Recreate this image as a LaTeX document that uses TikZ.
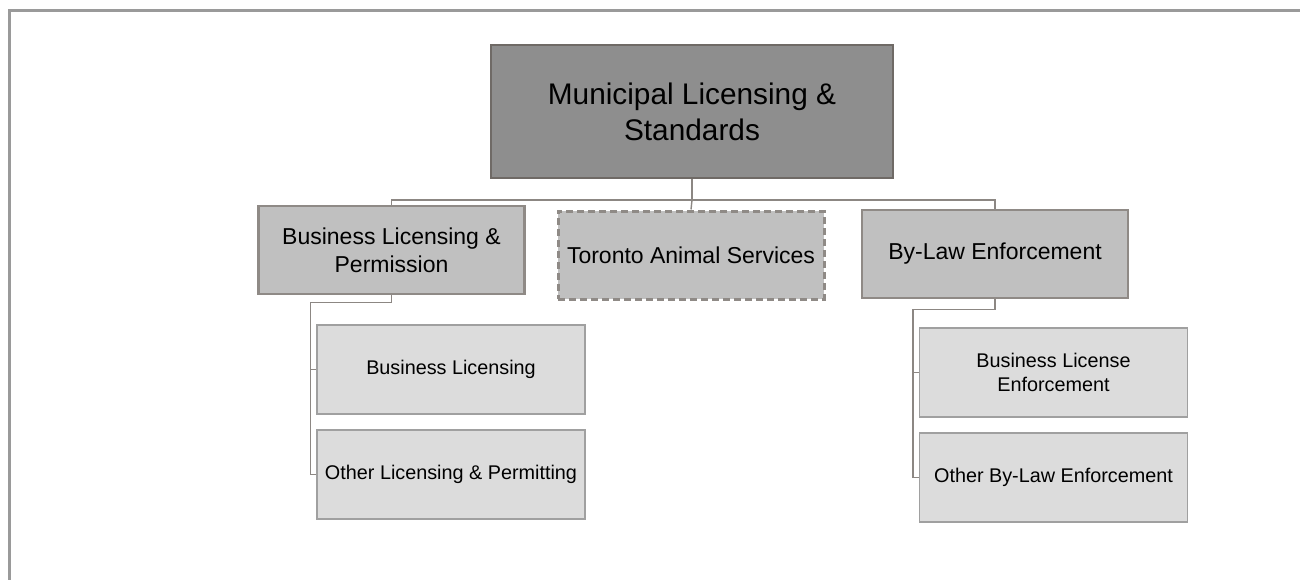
\documentclass[tikz,border=0pt]{standalone}
\usepackage{fontspec}
\setmainfont{Liberation Sans}
\usepackage{tikz}
\usetikzlibrary{positioning,calc}

\definecolor{framegray}{HTML}{9A9A9A}
\definecolor{linkgray}{HTML}{8C8783}
\definecolor{headfill}{HTML}{8E8E8E}
\definecolor{headdraw}{HTML}{6F6A66}
\definecolor{unitfill}{HTML}{C0C0C0}
\definecolor{unitdraw}{HTML}{8F8A86}
\definecolor{leaffill}{HTML}{DCDCDC}
\definecolor{leafdraw}{HTML}{A0A0A0}

\tikzset{
  head/.style={draw=headdraw,fill=headfill,line width=2pt,align=center,
    minimum width=402pt,minimum height=133pt,inner sep=0pt,
    font=\fontsize{29.8}{36}\selectfont},
  unit/.style={draw=unitdraw,fill=unitfill,line width=2.5pt,align=center,
    minimum width=266pt,minimum height=88pt,inner sep=0pt,
    font=\fontsize{23}{28}\selectfont},
  leaf/.style={draw=leafdraw,fill=leaffill,line width=1.2pt,align=center,
    minimum width=268pt,minimum height=89pt,inner sep=0pt,
    font=\fontsize{19.8}{24}\selectfont},
  link/.style={draw=linkgray,line width=1.4pt},
}

\begin{document}
\begin{tikzpicture}[x=1pt,y=-1pt]
\useasboundingbox (0,0) rectangle (1300,580);
\draw[framegray,line width=3pt] (1300,11) -- (9,11) -- (9,580);

% top of the tree
\node[head] (mls) at (692,111.5) {Municipal Licensing \&\\Standards};

% second level
\node[unit] (blp) at (391.5,250) {Business Licensing \&\\Permission};
\node[unit,dashed,dash pattern=on 7pt off 4pt,line width=3pt] (tas) at (691,255) {Toronto Animal Services};
\node[unit] (ble) at (995,254) {By-Law Enforcement};

% third level
\node[leaf] (bl) at (451,369.5) {Business Licensing};
\node[leaf] (olp) at (451,474.5) {Other Licensing \& Permitting};
\node[leaf] (blen) at (1053.5,372.5) {Business License\\Enforcement};
\node[leaf] (obe) at (1053.5,477.5) {Other By-Law Enforcement};

% connectors
\draw[link] (mls.south) -- ++(0,21) coordinate (bus) -| (blp.north);
\draw[link] (bus) -| (ble.north);
\draw[link] (bus) -- (tas.north);
\draw[link] (blp.south) -- ++(0,7) -| ([xshift=-6pt]olp.west) -- (olp.west);
\draw[link] ([xshift=-6pt]bl.west) -- (bl.west);
\draw[link] (ble.south) -- ++(0,10) -| ([xshift=-6pt]obe.west) -- (obe.west);
\draw[link] ([xshift=-6pt]blen.west) -- (blen.west);
\end{tikzpicture}
\end{document}
